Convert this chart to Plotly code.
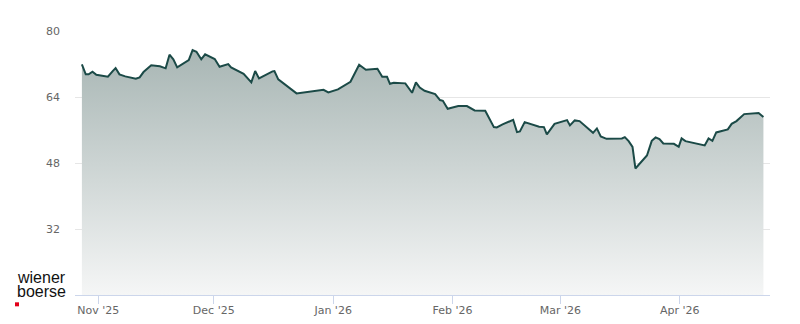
import plotly.graph_objects as go

dates = [
    "2025-10-27 18:00", "2025-10-28 18:00", "2025-10-29 12:00", "2025-10-30 12:00", "2025-10-31 12:00",
    "2025-11-03 12:00", "2025-11-04 18:00", "2025-11-05 12:00", "2025-11-06 12:00", "2025-11-08 00:00",
    "2025-11-10 18:00", "2025-11-11 18:00", "2025-11-12 18:00", "2025-11-14 18:00", "2025-11-17 00:00",
    "2025-11-18 12:00", "2025-11-19 12:00", "2025-11-20 12:00", "2025-11-21 12:00", "2025-11-24 12:00",
    "2025-11-25 12:00", "2025-11-26 12:00", "2025-11-27 18:00", "2025-11-28 18:00", "2025-12-01 06:00",
    "2025-12-02 12:00", "2025-12-04 18:00", "2025-12-05 12:00", "2025-12-08 18:00", "2025-12-10 18:00",
    "2025-12-11 18:00", "2025-12-12 18:00", "2025-12-16 06:00", "2025-12-16 18:00", "2025-12-17 18:00",
    "2025-12-22 12:00", "2025-12-29 12:00", "2025-12-30 18:00", "2026-01-02 06:00", "2026-01-05 12:00",
    "2026-01-07 18:00", "2026-01-09 12:00", "2026-01-12 12:00", "2026-01-13 18:00", "2026-01-15 00:00",
    "2026-01-15 18:00", "2026-01-16 18:00", "2026-01-19 18:00", "2026-01-21 12:00", "2026-01-22 12:00",
    "2026-01-23 12:00", "2026-01-24 18:00", "2026-01-27 12:00", "2026-01-28 18:00", "2026-01-29 12:00",
    "2026-01-30 18:00", "2026-02-02 12:00", "2026-02-04 18:00", "2026-02-06 18:00", "2026-02-09 12:00",
    "2026-02-11 18:00", "2026-02-12 12:00", "2026-02-14 00:00", "2026-02-16 18:00", "2026-02-17 18:00",
    "2026-02-18 12:00", "2026-02-19 18:00", "2026-02-21 06:00", "2026-02-23 12:00", "2026-02-24 18:00",
    "2026-02-25 12:00", "2026-02-27 12:00", "2026-03-02 18:00", "2026-03-03 12:00", "2026-03-04 18:00",
    "2026-03-06 00:00", "2026-03-09 12:00", "2026-03-10 12:00", "2026-03-11 12:00", "2026-03-13 00:00",
    "2026-03-17 00:00", "2026-03-17 18:00", "2026-03-18 18:00", "2026-03-19 18:00", "2026-03-20 12:00",
    "2026-03-23 12:00", "2026-03-24 18:00", "2026-03-25 18:00", "2026-03-26 18:00", "2026-03-27 18:00",
    "2026-03-30 12:00", "2026-03-31 18:00", "2026-04-01 12:00", "2026-04-02 12:00", "2026-04-07 12:00",
    "2026-04-08 12:00", "2026-04-09 12:00", "2026-04-10 12:00", "2026-04-13 12:00", "2026-04-14 12:00",
    "2026-04-15 18:00", "2026-04-17 18:00", "2026-04-21 12:00", "2026-04-22 18:00",
]

prices = [
    71.92, 69.49, 69.49, 70.12, 69.39,
    68.91, 70.29, 71.02, 69.49, 69.00,
    68.42, 68.76, 70.05, 71.67, 71.43,
    70.95, 74.25, 73.13, 71.19, 72.96,
    75.39, 74.98, 73.13, 74.34, 73.20,
    71.33, 71.99, 71.19, 69.64, 67.55,
    70.29, 68.52, 70.22, 70.29, 68.28,
    64.88, 65.75, 65.12, 65.85, 67.69,
    71.82, 70.61, 70.85, 68.91, 68.91,
    67.21, 67.45, 67.31, 65.02, 67.55,
    66.29, 65.51, 64.71, 63.25, 63.08,
    61.14, 61.80, 61.80, 60.75, 60.66,
    56.70, 56.63, 57.35, 58.47, 55.49,
    55.66, 57.91, 57.43, 56.77, 56.70,
    54.93, 57.50, 58.40, 57.11, 58.33,
    58.16, 55.32, 56.38, 54.44, 53.86,
    53.96, 54.27, 53.30, 51.92, 46.67,
    49.83, 53.37, 54.20, 53.79, 52.74,
    52.65, 51.92, 53.96, 53.30, 52.26,
    53.96, 53.37, 55.41, 56.14, 57.50,
    58.16, 59.85, 60.10, 59.13,
]

tick_vals = ["2025-11-01", "2025-12-01", "2026-01-01", "2026-02-01", "2026-03-01", "2026-04-01"]
tick_text = ["Nov '25", "Dec '25", "Jan '26", "Feb '26", "Mar '26", "Apr '26"]
y_ticks = [16, 32, 48, 64, 80]
y_tick_text = ["", "32", "48", "64", "80"]

fig = go.Figure()
fig.add_trace(go.Scatter(
    x=dates, y=prices, mode="lines",
    line=dict(color="#1b4a47", width=2),
    fill="tozeroy",
    fillgradient=dict(type="vertical", start=16, stop=80,
                      colorscale=[[0, "#f5f6f6"], [1, "#a2b1af"]]),
    hoverinfo="skip", showlegend=False,
))

fig.update_layout(
    width=800, height=324,
    margin=dict(l=75, r=30, t=31, b=29, pad=0),
    paper_bgcolor="white", plot_bgcolor="white",
    font=dict(family="DejaVu Sans", size=11, color="#666666"),
    xaxis=dict(
        type="date",
        range=["2025-10-25 23:00", "2026-04-24 11:00"],
        tickvals=tick_vals, ticktext=tick_text,
        showgrid=False, showline=True, linecolor="#ccd6eb", linewidth=1,
        ticks="outside", ticklen=8, tickcolor="#ccd6eb", tickwidth=1,
        ticklabelstandoff=-3,
        tickfont=dict(size=11, color="#666666"),
        zeroline=False, fixedrange=True, automargin=False,
    ),
    yaxis=dict(
        range=[16, 80],
        tickvals=y_ticks, ticktext=y_tick_text,
        showgrid=True, gridcolor="#e6e6e6", gridwidth=1,
        showline=False, zeroline=False, ticks="",
        ticklabelstandoff=14,
        tickfont=dict(size=11, color="#666666"),
        fixedrange=True, automargin=False,
    ),
    annotations=[
        dict(text="wiener", xref="paper", yref="paper", x=-0.0863, y=0.067,
             xanchor="left", yanchor="middle", showarrow=False,
             font=dict(family="Liberation Sans", size=16, color="#111111")),
        dict(text="boerse", xref="paper", yref="paper", x=-0.0863, y=0.012,
             xanchor="left", yanchor="middle", showarrow=False,
             font=dict(family="Liberation Sans", size=16, color="#111111")),
    ],
    shapes=[
        dict(type="rect", xref="paper", yref="paper",
             x0=-0.0863, x1=-0.0806, y0=-0.0429, y1=-0.0277,
             fillcolor="#e2001a", line=dict(width=0)),
    ],
)

fig.write_html("out.html")
